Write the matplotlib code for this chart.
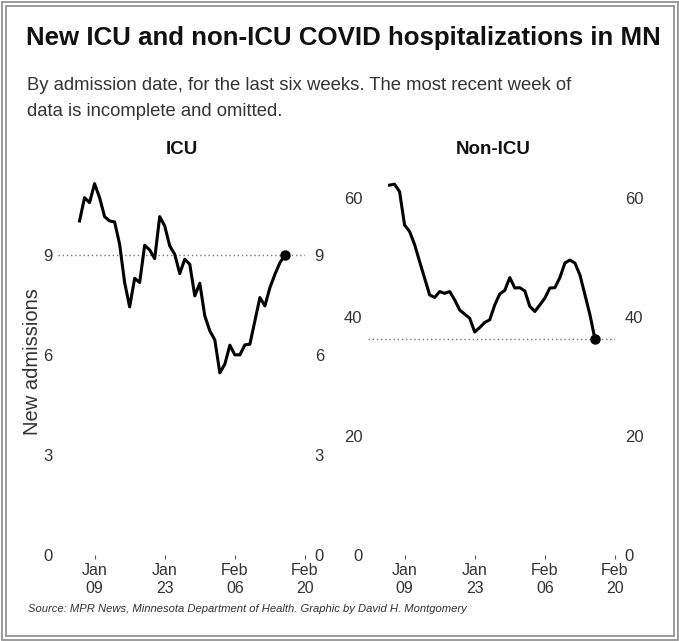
import pandas as pd
import matplotlib
matplotlib.use("Agg")
import matplotlib.pyplot as plt
from matplotlib.patches import Rectangle

# Datos (promedios diarios)
dias = pd.date_range("2022-01-06", "2022-02-16", freq="D")
icu = [10.03, 10.73, 10.58, 11.15, 10.73, 10.16, 10.03, 10.0, 9.33, 8.18,
       7.45, 8.31, 8.18, 9.30, 9.16, 8.90, 10.16, 9.88, 9.28, 9.03,
       8.45, 8.88, 8.73, 7.78, 8.16, 7.18, 6.73, 6.46, 5.47, 5.73,
       6.30, 6.01, 6.01, 6.31, 6.33, 7.03, 7.73, 7.48, 8.03, 8.43,
       8.78, 9.0]
no_icu = [62.2, 62.35, 61.1, 55.5, 54.4, 52.2, 49.35, 46.55, 43.75, 43.3,
          44.3, 44.0, 44.3, 42.9, 41.2, 40.5, 39.8, 37.5, 38.25, 39.1,
          39.55, 42.05, 43.9, 44.5, 46.65, 44.9, 44.95, 44.4, 41.8, 40.95,
          42.05, 43.2, 44.9, 44.95, 46.65, 49.1, 49.6, 49.1, 47.1, 43.75,
          40.4, 36.3]

fechas_ticks = pd.to_datetime(["2022-01-09", "2022-01-23", "2022-02-06", "2022-02-20"])
etiquetas_x = ["Jan\n09", "Jan\n23", "Feb\n06", "Feb\n20"]
yticks_icu = [0, 3, 6, 9]
yticks_no_icu = [0, 20, 40, 60]

plt.rcParams["font.family"] = ["Liberation Sans", "DejaVu Sans"]

W, H = 679, 641
fig = plt.figure(figsize=(W / 100, H / 100), dpi=100)

# Marco doble alrededor de la figura
for ins in (1.5, 5.5):
    fig.patches.append(Rectangle((ins / W, ins / H), 1 - 2 * ins / W, 1 - 2 * ins / H,
                                 transform=fig.transFigure, fill=False,
                                 edgecolor="#8a8a8a", lw=1.2))

x0 = pd.Timestamp("2022-01-09") - pd.Timedelta(days=7.3)
x1 = pd.Timestamp("2022-01-09") + pd.Timedelta(days=41.7)


def panel(left_px, valores, yticks, ytop, titulo, titulo_x):
    ax = fig.add_axes([left_px / W, (H - 555) / H, 247 / W, 380 / H])
    ax.plot(dias, valores, color="black", lw=2.2, solid_joinstyle="round")
    ax.axhline(valores[-1], color="#777777", ls=(0, (1, 2)), lw=1, zorder=0)
    ax.plot(dias[-1], valores[-1], "o", color="black", ms=6.5)
    ax.set_xlim(x0, x1)
    ax.set_ylim(0, ytop)
    ax.set_xticks(fechas_ticks)
    ax.set_xticklabels(etiquetas_x, linespacing=1.25)
    ax.set_yticks(yticks)
    for s in ax.spines.values():
        s.set_visible(False)
    ax.tick_params(axis="x", length=3, width=0.8, color="#555555", labelsize=11.5,
                   labelcolor="#333333", pad=3)
    ax.tick_params(axis="y", length=0, labelsize=12, labelcolor="#333333", pad=4)
    ax2 = ax.twinx()
    ax2.set_ylim(0, ytop)
    ax2.set_yticks(yticks)
    for s in ax2.spines.values():
        s.set_visible(False)
    ax2.tick_params(axis="y", length=0, labelsize=12, labelcolor="#333333", pad=7)
    fig.text(titulo_x / W, 1 - 150 / H, titulo, ha="center", va="center",
             fontsize=13.5, fontweight="bold", color="#111111")
    return ax


panel(58, icu, yticks_icu, 11.41, "ICU", 182)
panel(368, no_icu, yticks_no_icu, 63.9, "Non-ICU", 493)

fig.text(26 / W, 1 - 38 / H, "New ICU and non-ICU COVID hospitalizations in MN",
         ha="left", va="center", fontsize=18.6, fontweight="bold", color="#111111")
fig.text(27 / W, 1 - 86 / H, "By admission date, for the last six weeks. The most recent week of",
         ha="left", va="center", fontsize=13.3, color="#333333")
fig.text(27 / W, 1 - 111 / H, "data is incomplete and omitted.",
         ha="left", va="center", fontsize=13.3, color="#333333")
fig.text(33 / W, 1 - 362 / H, "New admissions", rotation=90, ha="center", va="center",
         fontsize=14.5, color="#333333")
fig.text(28 / W, 1 - 609 / H,
         "Source: MPR News, Minnesota Department of Health. Graphic by David H. Montgomery",
         ha="left", va="center", fontsize=8.1, style="italic", color="#333333")

fig.savefig("out.png", dpi=100)
